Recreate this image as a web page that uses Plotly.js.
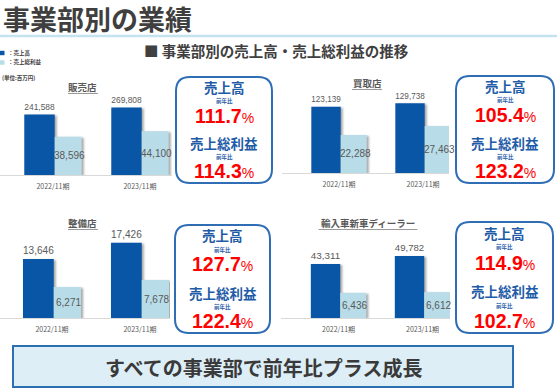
<!DOCTYPE html>
<html><head><meta charset="utf-8">
<script src="https://cdn.plot.ly/plotly-3.0.1.min.js"></script>
<style>
html,body{margin:0;padding:0;background:#fff;}
#chart{width:557px;height:388px;}
.barlayer path{filter:drop-shadow(2px 1px 1.2px rgba(0,0,0,0.35));}
</style></head>
<body><div id="chart"></div>
<script>
// ---- data ----
const divisions = ['販売店', '買取店', '整備店', '輸入車新車ディーラー'];
const periods = ['2022/11期', '2023/11期'];
const salesRetail = [241588, 269808];
const grossRetail = [38596, 44100];
const salesBuying = [123139, 129738];
const grossBuying = [22288, 27463];
const salesService = [13646, 17426];
const grossService = [6271, 7678];
const salesImport = [43311, 49782];
const grossImport = [6436, 6612];
const yoySales = [111.7, 105.4, 127.7, 114.9];
const yoyGross = [114.3, 123.2, 122.4, 102.7];
const legendLabels = ['：売上高', '：売上総利益'];

const salesByDiv = [salesRetail, salesBuying, salesService, salesImport];
const grossByDiv = [grossRetail, grossBuying, grossService, grossImport];

// ---- layout helpers ----
const W = 557, H = 388;
const fx = x => x / W;
const fy = y => 1 - y / H;
const DARK = '#0a56a6', LIGHT = '#b8dde9';
const JP = 'Noto Sans CJK JP';
const NUM = 'Liberation Sans Narrow, Liberation Sans, Arial';

const panels = [
  {x0: 0,   x1: 172, r0: -0.609, r1: 1.368, top: 95,  base: 175, dMax: 319500, lMax: 80725, tx: 83,  ty: 87,  tw: 30, box: [176, 272, 77, 183]},
  {x0: 282, x1: 449, r0: -0.679, r1: 1.309, top: 93,  base: 173, dMax: 148760, lMax: 46830, tx: 367, ty: 83,  tw: 30, box: [456, 554, 76, 183]},
  {x0: 0,   x1: 170, r0: -0.591, r1: 1.341, top: 238, base: 318, dMax: 18540,  lMax: 16170, tx: 83,  ty: 223, tw: 30, box: [175, 270, 225, 333]},
  {x0: 281, x1: 450, r0: -0.685, r1: 1.327, top: 238, base: 318, dMax: 64200,  lMax: 20470, tx: 368, ty: 223, tw: 99, box: [456, 553, 222, 333]}
];
const DW = 0.35, DOFF = -0.33, LW = 0.31, LOFF = 0.02;

const traces = [];
const layout = {
  width: W, height: H,
  margin: {l: 0, r: 0, t: 0, b: 0},
  paper_bgcolor: '#fff', plot_bgcolor: 'rgba(0,0,0,0)',
  showlegend: false,
  font: {family: JP, color: '#595959'},
  annotations: [], shapes: []
};

function roundRect(x0, x1, y0, y1, r) {
  const P = (x, y) => fx(x) + ',' + fy(y);
  return 'M' + P(x0 + r, y0) + ' L' + P(x1 - r, y0) + ' Q' + P(x1, y0) + ' ' + P(x1, y0 + r) +
    ' L' + P(x1, y1 - r) + ' Q' + P(x1, y1) + ' ' + P(x1 - r, y1) +
    ' L' + P(x0 + r, y1) + ' Q' + P(x0, y1) + ' ' + P(x0, y1 - r) +
    ' L' + P(x0, y0 + r) + ' Q' + P(x0, y0) + ' ' + P(x0 + r, y0) + ' Z';
}

panels.forEach((p, i) => {
  const xn = i === 0 ? '' : String(i + 1);
  const yd = String(2 * i + 1), yl = String(2 * i + 2);
  const ydName = yd === '1' ? '' : yd;
  traces.push({
    type: 'bar', x: periods, y: salesByDiv[i], xaxis: 'x' + xn, yaxis: 'y' + ydName,
    width: DW, offset: DOFF, marker: {color: DARK},
    texttemplate: '%{y:,}', textposition: 'outside', cliponaxis: false, textangle: 0,
    textfont: {family: NUM, size: 11, color: '#595959'}, hoverinfo: 'skip'
  });
  traces.push({
    type: 'bar', x: periods, y: grossByDiv[i], xaxis: 'x' + xn, yaxis: 'y' + yl,
    width: LW, offset: LOFF, marker: {color: LIGHT}, textposition: 'none', hoverinfo: 'skip'
  });
  // light-bar value labels, centred in the bar via the axis scales
  const pxPerUnit = (p.x1 - p.x0) / (p.r1 - p.r0);
  grossByDiv[i].forEach((v, j) => {
    layout.annotations.push({
      xref: 'x' + xn, yref: 'y' + yl, x: periods[j], y: v / 2, xshift: (LOFF + LW / 2) * pxPerUnit + 1.5,
      xanchor: 'center', yanchor: 'middle', showarrow: false,
      text: v.toLocaleString('en-US'), font: {family: NUM, size: 10, color: '#595959'}
    });
  });
  layout['xaxis' + xn] = {
    domain: [fx(p.x0), fx(p.x1)], anchor: 'y' + ydName, type: 'category',
    range: [p.r0, p.r1], showline: true, linecolor: '#d9d9d9', linewidth: 1,
    showgrid: false, zeroline: false, ticks: '', ticklabelstandoff: 5,
    tickfont: {family: JP, size: 7, color: '#595959'}, fixedrange: true
  };
  layout['yaxis' + ydName] = {
    domain: [fy(p.base), fy(p.top)], anchor: 'x' + xn, range: [0, p.dMax],
    visible: false, showgrid: false, zeroline: false, fixedrange: true
  };
  layout['yaxis' + yl] = {
    domain: [fy(p.base), fy(p.top)], anchor: 'x' + xn, overlaying: 'y' + ydName,
    range: [0, p.lMax], visible: false, showgrid: false, zeroline: false, fixedrange: true
  };
  // panel title + underline
  layout.annotations.push({
    xref: 'paper', yref: 'paper', x: fx(p.tx), y: fy(p.ty), xanchor: 'center', yanchor: 'middle',
    text: divisions[i], showarrow: false, font: {family: JP, size: 9.5, color: '#595959', weight: 'bold'}
  });
  layout.shapes.push({
    type: 'line', xref: 'paper', yref: 'paper', x0: fx(p.tx - p.tw / 2), x1: fx(p.tx + p.tw / 2),
    y0: fy(p.ty + 6.5), y1: fy(p.ty + 6.5), line: {color: '#7f7f7f', width: 0.8}
  });
  // YoY box
  const [bx0, bx1, by0, by1] = p.box;
  layout.shapes.push({
    type: 'path', xref: 'paper', yref: 'paper', path: roundRect(bx0, bx1, by0, by1, 14),
    fillcolor: '#ffffff', line: {color: '#2f6db5', width: 2}
  });
  const cx = fx((bx0 + bx1) / 2), bh = by1 - by0;
  const at = f => fy(by0 + f * bh);
  const add = (text, f, font) => layout.annotations.push({
    xref: 'paper', yref: 'paper', x: cx, y: at(f), xanchor: 'center', yanchor: 'middle',
    text: text, showarrow: false, font: font
  });
  const blue = {family: JP, size: 13.5, color: '#1f5ca8', weight: 'bold'};
  const small = {family: JP, size: 5.5, color: '#1f5ca8', weight: 'bold'};
  const red = {family: 'Liberation Sans, Arial', size: 19.5, color: '#ff0000', weight: 'bold'};
  add('売上高', 0.097, blue);
  add('前年比', 0.228, small);
  add(yoySales[i].toFixed(1) + '<span style="font-size:14px;font-weight:normal">%</span>', 0.365, red);
  add('売上総利益', 0.625, blue);
  add('前年比', 0.757, small);
  add(yoyGross[i].toFixed(1) + '<span style="font-size:14px;font-weight:normal">%</span>', 0.888, red);
});

// page title + underline
layout.annotations.push({
  xref: 'paper', yref: 'paper', x: fx(1), y: fy(18.5), xanchor: 'left', yanchor: 'middle',
  text: '事業部別の業績', showarrow: false, font: {family: JP, size: 27, color: '#3f3f3f', weight: 'bold'}
});
layout.shapes.push({type: 'line', xref: 'paper', yref: 'paper', x0: 0, x1: 1, y0: fy(36), y1: fy(36),
  line: {color: '#c3e3ee', width: 2.5}});
// section header
layout.annotations.push({
  xref: 'paper', yref: 'paper', x: fx(142), y: fy(51), xanchor: 'left', yanchor: 'middle',
  text: '■ 事業部別の売上高・売上総利益の推移', showarrow: false,
  font: {family: JP, size: 14.5, color: '#404040', weight: 'bold'}
});
// legend
[DARK, LIGHT].forEach((c, k) => {
  const yy = 53 + k * 9.5;
  layout.shapes.push({type: 'rect', xref: 'paper', yref: 'paper', x0: fx(0), x1: fx(4.5),
    y0: fy(yy - 2.2), y1: fy(yy + 2.2), fillcolor: c, line: {width: 0}});
  layout.annotations.push({xref: 'paper', yref: 'paper', x: fx(6), y: fy(yy), xanchor: 'left', yanchor: 'middle',
    text: legendLabels[k], showarrow: false, font: {family: JP, size: 5.5, color: '#404040', weight: 'bold'}});
});
layout.annotations.push({xref: 'paper', yref: 'paper', x: 0, y: fy(78), xanchor: 'left', yanchor: 'middle',
  text: '(単位:百万円)', showarrow: false, font: {family: JP, size: 5.5, color: '#404040', weight: 'bold'}});
// bottom banner
layout.shapes.push({type: 'rect', xref: 'paper', yref: 'paper', x0: fx(13), x1: fx(513), y0: fy(346), y1: fy(387),
  fillcolor: '#ddeef6', line: {color: '#2c6fb3', width: 2}});
layout.annotations.push({xref: 'paper', yref: 'paper', x: fx(263), y: fy(367), xanchor: 'center', yanchor: 'middle',
  text: 'すべての事業部で前年比プラス成長', showarrow: false,
  font: {family: JP, size: 20, color: '#3a3a3a', weight: 'bold'}});

Plotly.newPlot('chart', traces, layout, {staticPlot: true, displayModeBar: false});
</script></body></html>
